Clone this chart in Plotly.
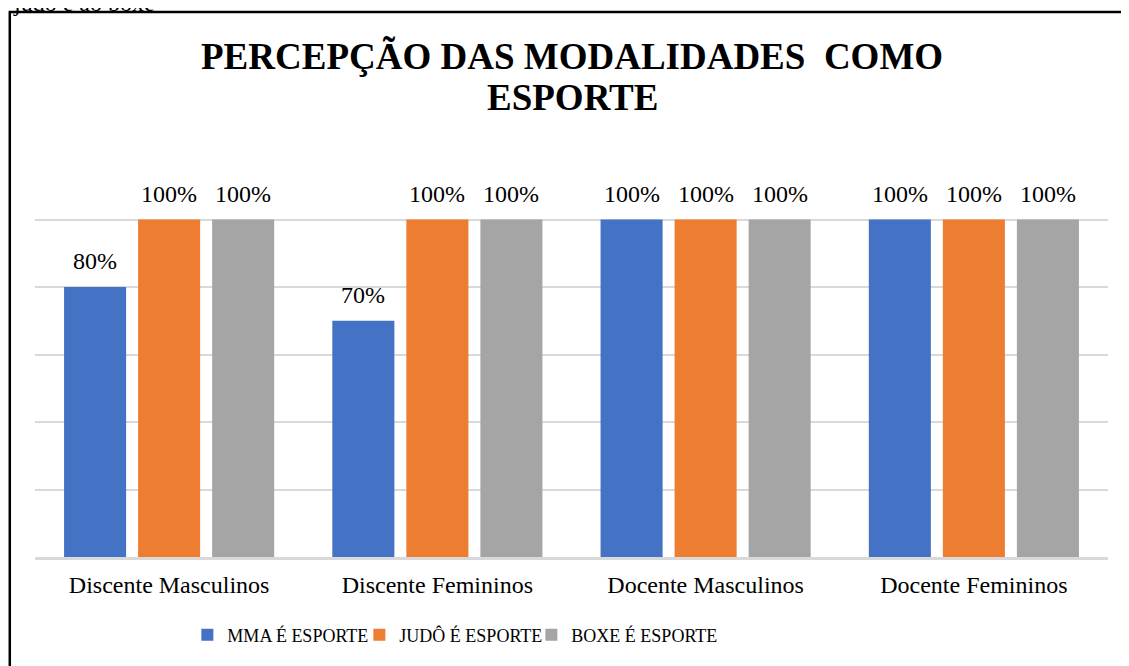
import plotly.graph_objects as go

categorias = ["Discente Masculinos", "Discente Femininos", "Docente Masculinos", "Docente Femininos"]
mma = [80, 70, 100, 100]
judo = [100, 100, 100, 100]
boxe = [100, 100, 100, 100]

series = [
    ("MMA É ESPORTE", mma, "#4472C4"),
    ("JUDÔ É ESPORTE", judo, "#ED7D31"),
    ("BOXE É ESPORTE", boxe, "#A5A5A5"),
]

fonte = "Liberation Serif, Times New Roman, serif"
nb = "\u00a0"
titulo = ["PERCEPÇÃO DAS MODALIDADES" + nb * 2 + "COMO", "ESPORTE"]

fig = go.Figure()
annots = []
for i, (nome, vals, cor) in enumerate(series):
    fig.add_trace(go.Bar(x=categorias, y=vals, name=nome, marker_color=cor,
                         marker_line_width=0,
                         legendwidth=170 if i == 2 else None))
    # rótulos de dados acima das barras
    for c, v in zip(categorias, vals):
        annots.append(dict(x=c, y=v, xref="x", yref="y", text=f"{v}%",
                           showarrow=False, yanchor="bottom", xshift=(i - 1) * 74,
                           yshift=11, font=dict(family=fonte, size=24, color="#000")))

# título em duas linhas
for linha, yy in zip(titulo, [1.237, 1.1346]):
    annots.append(dict(x=0.5005, y=yy, xref="paper", yref="paper", text=linha,
                       showarrow=False, xanchor="center", yanchor="middle",
                       font=dict(family=fonte, size=37, color="#000", weight="bold")))

# texto do parágrafo anterior, cortado no topo
annots.append(dict(x=-0.022, y=1.3667, xref="paper", yref="paper", text="judô e ao boxe",
                   showarrow=False, xanchor="left", yanchor="middle",
                   font=dict(family=fonte, size=24, color="#000")))

fig.update_layout(
    width=1129, height=666,
    margin=dict(l=27, r=29, t=144, b=117),
    paper_bgcolor="white", plot_bgcolor="white",
    barmode="group", bargap=0.172, bargroupgap=0.162,
    font=dict(family=fonte, color="#000"),
    legend=dict(orientation="h", x=0.142, xanchor="left", y=-0.1926, yanchor="middle",
                font=dict(family=fonte, size=18, color="#000"),
                entrywidthmode="pixels", entrywidth=127, traceorder="normal"),
    annotations=annots,
    shapes=[dict(type="rect", xref="paper", yref="paper", x0=-0.0235, x1=1.2,
                 y0=-0.5, y1=1.3457, line=dict(color="#000", width=2.5))],
)
fig.update_xaxes(showline=True, linecolor="#D9D9D9", linewidth=2.5,
                 tickfont=dict(family=fonte, size=24, color="#000"),
                 ticks="outside", ticklen=4, tickcolor="rgba(0,0,0,0)")
fig.update_yaxes(range=[0, 120], dtick=20, showticklabels=False, gridcolor="#D9D9D9",
                 gridwidth=1.5, zeroline=False)

fig.write_html("out.html")
